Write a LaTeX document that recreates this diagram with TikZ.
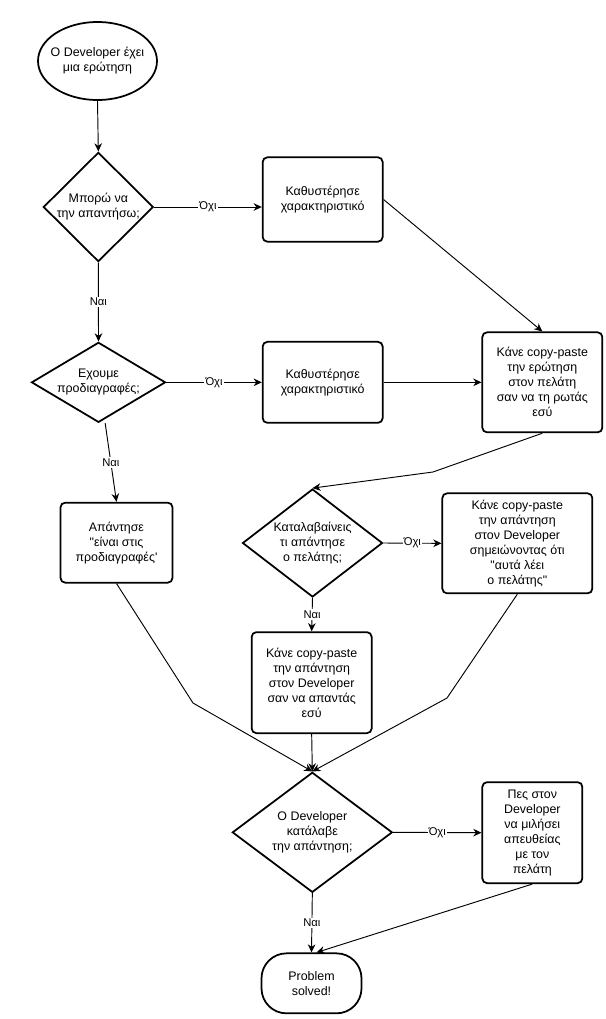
\documentclass[tikz,border=0pt]{standalone}
\usepackage{fontspec}
\setmainfont{Liberation Sans}
\usetikzlibrary{shapes.geometric,arrows.meta}

% text of the round shapes takes no width, so the shape keeps its size
\newcommand{\ctext}[1]{\makebox[0pt]{\begin{tabular}{@{}c@{}}#1\end{tabular}}}

\begin{document}
\begin{tikzpicture}[
	box/.style={
		draw, rounded corners=4pt, line width=1.5pt,
		minimum width=3.6cm, minimum height=3cm, inner sep=2pt,
		align=center, font=\fontsize{10.6pt}{12.8pt}\selectfont
	},
	decision/.style={
		diamond, draw, line width=1.5pt, inner sep=0pt,
		font=\fontsize{10.6pt}{12.8pt}\selectfont
	},
	oval/.style={
		ellipse, draw, line width=1.5pt, inner sep=0pt,
		minimum width=3.57cm, minimum height=2.34cm,
		font=\fontsize{10.6pt}{12.8pt}\selectfont
	},
	endbox/.style={
		draw, rounded corners=0.75cm, line width=1.5pt,
		minimum width=3cm, minimum height=1.8cm,
		align=center, font=\fontsize{10.6pt}{12.8pt}\selectfont
	},
	arr/.style={->, >={Stealth[length=7pt,width=6.5pt]}, line width=0.8pt},
	lbl/.style={fill=white, inner sep=1pt, font=\fontsize{9.6pt}{11pt}\selectfont}
]

\useasboundingbox (0,0) rectangle (18.15,-30.57);

% Left column
\node[oval] (ask) at (2.925, -1.83) {\ctext{Ο Developer έχει\\μια ερώτηση}};
\node[decision, minimum width=3.3cm, minimum height=3.28cm] (canans) at (2.95, -6.21) {\ctext{Μπορώ να\\την απαντήσω;}};
\node[decision, minimum width=4.02cm, minimum height=2.4cm] (specs) at (2.955, -11.47) {\ctext{Εχουμε\\προδιαγραφές;}};
\node[box, minimum width=3.36cm, minimum height=2.4cm] (inspecs) at (3.495, -16.28) {Απάντησε\\\textquotedbl είναι στις\\προδιαγραφές\textquotesingle};

% Middle column
\node[box, minimum height=2.53cm] (delay1) at (9.68, -5.985) {Καθυστέρησε\\χαρακτηριστικό};
\node[box, minimum height=2.43cm] (delay2) at (9.68, -11.47) {Καθυστέρησε\\χαρακτηριστικό};
\node[decision, minimum width=4.2cm, minimum height=3.24cm] (clientok) at (9.375, -16.29) {\ctext{Καταλαβαίνεις\\τι απάντησε\\ο πελάτης;}};
\node[box, minimum height=3.03cm] (pasteans) at (9.35, -20.48) {Κάνε copy-paste\\την απάντηση\\στον Developer\\σαν να απαντάς\\εσύ};
\node[decision, minimum width=4.8cm, minimum height=3.6cm] (devok) at (9.37, -24.97) {\ctext{Ο Developer\\κατάλαβε\\την απάντηση;}};
\node[endbox] (solved) at (9.345, -29.5) {Problem\\solved!};

% Right column
\node[box] (pasteq) at (16.27, -11.47) {Κάνε copy-paste\\την ερώτηση\\στον πελάτη\\σαν να τη ρωτάς\\εσύ};
\node[box, minimum width=4.5cm] (pastenote) at (15.52, -16.3) {Κάνε copy-paste\\την απάντηση\\στον Developer\\σημειώνοντας ότι\\\textquotedbl αυτά λέει\\ο πελάτης\textquotedbl};
\node[box, minimum width=3cm, minimum height=3.03cm] (talk) at (15.97, -24.98) {Πες στον\\Developer\\να μιλήσει\\απευθείας\\με τον\\πελάτη};

% Bends
\coordinate (b1) at (12.99, -14.16);
\coordinate (b2) at (5.79, -21.09);
\coordinate (b3) at (13.41, -20.94);

% Connectors
\draw[arr] (ask.south) -- (canans.north);
\draw[arr] (canans.east) -- node[lbl]{Όχι} (canans.east -| delay1.west);
\draw[arr] (canans.south) -- node[lbl]{Ναι} (specs.north);
\draw[arr] (delay1.east) -- (pasteq.north);
\draw[arr] (specs.east) -- node[lbl]{Όχι} (delay2.west);
\draw[arr] (delay2.east) -- (pasteq.west);
\draw[arr] ([xshift=0.2cm]specs.south) -- node[lbl]{Ναι} (inspecs.north);
\draw[arr] (pasteq.south) -- (b1) -- (clientok.north);
\draw[arr] (clientok.east) -- node[lbl]{Όχι} (pastenote.west);
\draw[arr] (clientok.south) -- node[lbl]{Ναι} (pasteans.north);

% Into the last question
\draw[arr] (pasteans.south) -- (devok.north);
\draw[arr] (inspecs.south) -- (b2) -- (devok.north);
\draw[arr] (pastenote.south) -- (b3) -- (devok.north);

\draw[arr] (devok.east) -- node[lbl]{Όχι} (talk.west);
\draw[arr] (devok.south) -- node[lbl]{Ναι} (solved.north);
\draw[arr] (talk.south) -- ([xshift=0.15cm]solved.north);

\end{tikzpicture}
\end{document}
